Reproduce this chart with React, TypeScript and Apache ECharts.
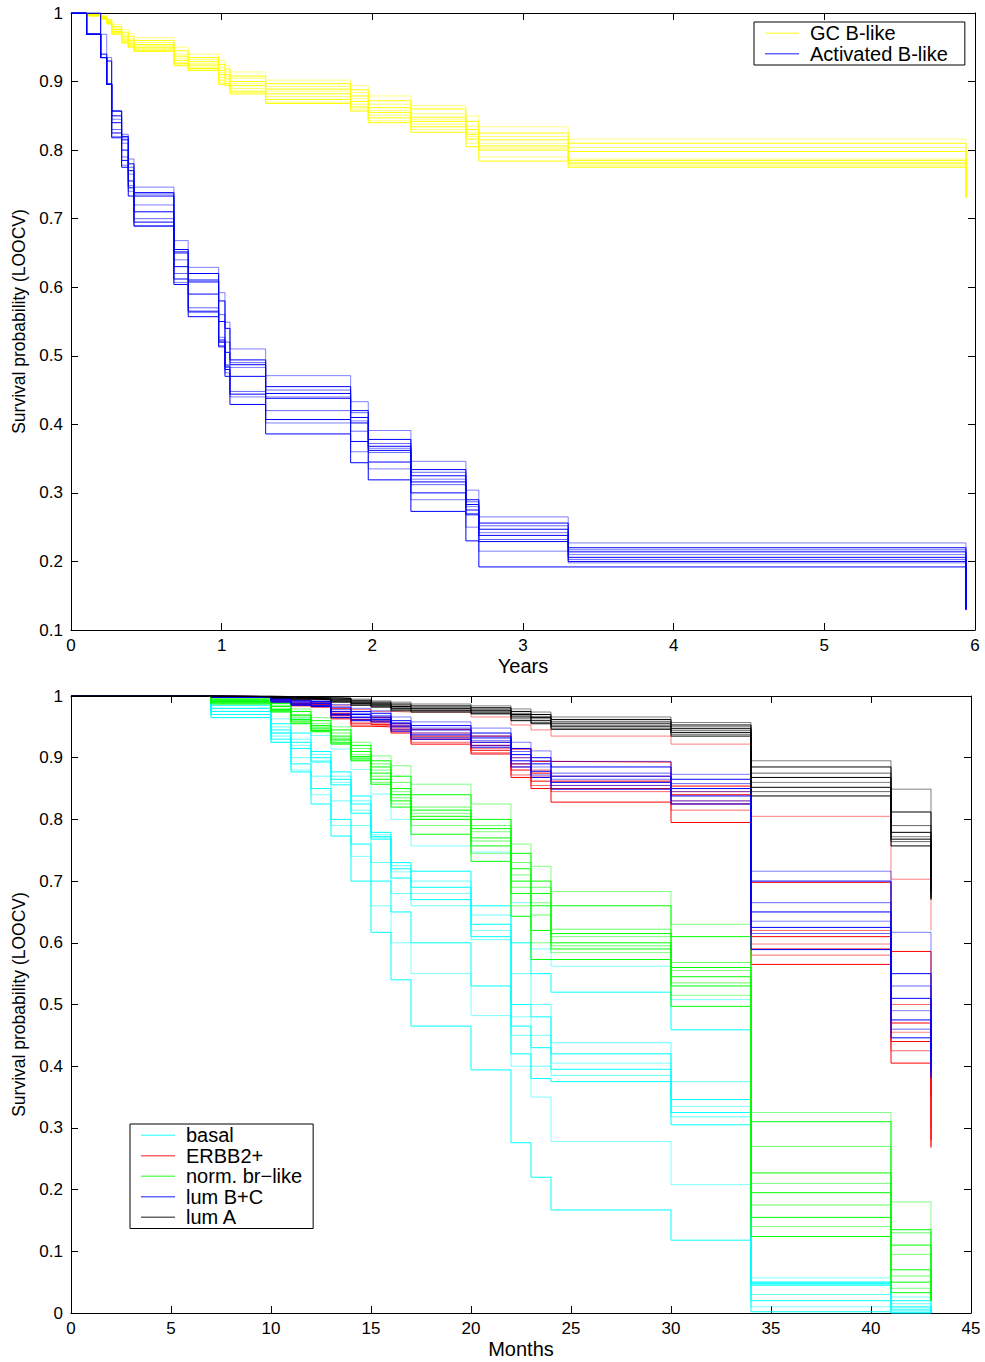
import React, { useEffect, useRef } from 'react';
import * as echarts from 'echarts';

// ---------- Top panel: years ----------
const yearTimes = [0, 0.104, 0.197, 0.237, 0.27, 0.336, 0.38, 0.418, 0.683, 0.778, 0.98, 1.022, 1.055, 1.292, 1.856, 1.973, 2.256, 2.621, 2.707, 3.3, 5.94];

const gcBLike = [
  [1, 0.998, 0.996, 0.991, 0.983, 0.976, 0.97, 0.964, 0.95, 0.94, 0.931, 0.923, 0.914, 0.902, 0.894, 0.879, 0.865, 0.85, 0.834, 0.816, 0.731],
  [1, 0.998, 0.995, 0.99, 0.98, 0.972, 0.966, 0.96, 0.945, 0.935, 0.925, 0.918, 0.908, 0.897, 0.888, 0.872, 0.86, 0.842, 0.825, 0.81, 0.731],
  [1, 0.997, 0.994, 0.989, 0.978, 0.969, 0.962, 0.957, 0.94, 0.932, 0.92, 0.914, 0.905, 0.893, 0.884, 0.867, 0.853, 0.835, 0.82, 0.804, 0.731],
  [1, 0.997, 0.994, 0.988, 0.976, 0.966, 0.96, 0.954, 0.937, 0.929, 0.916, 0.91, 0.9, 0.889, 0.879, 0.862, 0.848, 0.83, 0.815, 0.798, 0.731],
  [1, 0.997, 0.993, 0.987, 0.975, 0.964, 0.958, 0.952, 0.934, 0.926, 0.913, 0.907, 0.897, 0.886, 0.875, 0.858, 0.845, 0.826, 0.81, 0.787, 0.731],
  [1, 0.996, 0.993, 0.986, 0.973, 0.962, 0.956, 0.95, 0.931, 0.924, 0.91, 0.904, 0.894, 0.882, 0.871, 0.855, 0.842, 0.823, 0.806, 0.785, 0.731],
  [1, 0.996, 0.992, 0.986, 0.972, 0.96, 0.954, 0.948, 0.928, 0.921, 0.906, 0.9, 0.89, 0.878, 0.867, 0.851, 0.838, 0.82, 0.803, 0.782, 0.731],
  [1, 0.996, 0.992, 0.985, 0.971, 0.958, 0.952, 0.946, 0.926, 0.919, 0.902, 0.897, 0.886, 0.874, 0.863, 0.847, 0.834, 0.816, 0.8, 0.78, 0.731],
  [1, 0.996, 0.991, 0.984, 0.97, 0.957, 0.951, 0.945, 0.924, 0.917, 0.898, 0.895, 0.884, 0.87, 0.86, 0.843, 0.83, 0.81, 0.79, 0.777, 0.731],
  [1, 0.996, 0.991, 0.984, 0.969, 0.956, 0.95, 0.944, 0.923, 0.916, 0.896, 0.894, 0.882, 0.868, 0.857, 0.84, 0.826, 0.805, 0.784, 0.775, 0.731],
];

const activatedBLike = [
  [1, 1, 0.969, 0.935, 0.857, 0.823, 0.787, 0.746, 0.668, 0.629, 0.592, 0.549, 0.51, 0.471, 0.433, 0.391, 0.346, 0.304, 0.265, 0.227, 0.13],
  [1, 1, 0.94, 0.93, 0.857, 0.82, 0.78, 0.738, 0.655, 0.62, 0.58, 0.54, 0.494, 0.455, 0.42, 0.378, 0.334, 0.29, 0.256, 0.22, 0.13],
  [1, 0.969, 0.935, 0.896, 0.857, 0.818, 0.775, 0.736, 0.652, 0.611, 0.56, 0.52, 0.49, 0.45, 0.417, 0.372, 0.33, 0.287, 0.252, 0.217, 0.13],
  [1, 0.969, 0.935, 0.896, 0.85, 0.815, 0.77, 0.733, 0.65, 0.609, 0.55, 0.505, 0.487, 0.445, 0.41, 0.368, 0.325, 0.283, 0.247, 0.214, 0.13],
  [1, 0.969, 0.935, 0.896, 0.845, 0.81, 0.765, 0.72, 0.64, 0.607, 0.527, 0.487, 0.483, 0.44, 0.405, 0.365, 0.32, 0.28, 0.242, 0.21, 0.13],
  [1, 0.969, 0.935, 0.896, 0.84, 0.8, 0.755, 0.71, 0.63, 0.59, 0.523, 0.485, 0.47, 0.438, 0.402, 0.362, 0.316, 0.275, 0.238, 0.206, 0.13],
  [1, 0.969, 0.935, 0.896, 0.83, 0.79, 0.748, 0.7, 0.62, 0.57, 0.52, 0.483, 0.448, 0.42, 0.39, 0.359, 0.312, 0.27, 0.232, 0.203, 0.13],
  [1, 0.969, 0.935, 0.896, 0.825, 0.785, 0.745, 0.695, 0.612, 0.565, 0.52, 0.48, 0.444, 0.407, 0.375, 0.345, 0.3, 0.268, 0.229, 0.2, 0.13],
  [1, 0.969, 0.935, 0.896, 0.82, 0.778, 0.74, 0.69, 0.607, 0.563, 0.515, 0.475, 0.44, 0.402, 0.36, 0.335, 0.29, 0.25, 0.215, 0.198, 0.13],
  [1, 0.969, 0.935, 0.896, 0.818, 0.775, 0.733, 0.689, 0.604, 0.557, 0.513, 0.47, 0.429, 0.386, 0.344, 0.319, 0.273, 0.23, 0.192, 0.192, 0.13],
];

// ---------- Bottom panel: months ----------
const monthTimes = [0, 7, 10, 11, 12, 13, 14, 15, 16, 17, 20, 22, 23, 24, 30, 34, 41, 43];

const basal = [
  [1, 0.99, 0.963, 0.963, 0.936, 0.914, 0.881, 0.841, 0.8, 0.757, 0.747, 0.665, 0.59, 0.562, 0.508, 0.057, 0.026, 0],
  [1, 0.985, 0.955, 0.94, 0.91, 0.877, 0.838, 0.779, 0.73, 0.716, 0.66, 0.6, 0.55, 0.52, 0.459, 0.05, 0.02, 0],
  [1, 0.98, 0.95, 0.93, 0.905, 0.87, 0.83, 0.775, 0.725, 0.7, 0.645, 0.55, 0.5, 0.438, 0.375, 0.05, 0.015, 0],
  [1, 0.98, 0.945, 0.925, 0.9, 0.865, 0.825, 0.772, 0.72, 0.69, 0.63, 0.5, 0.48, 0.42, 0.346, 0.048, 0.01, 0],
  [1, 0.975, 0.94, 0.92, 0.895, 0.86, 0.815, 0.77, 0.715, 0.68, 0.62, 0.48, 0.45, 0.405, 0.335, 0.046, 0.008, 0],
  [1, 0.975, 0.94, 0.915, 0.893, 0.856, 0.81, 0.768, 0.705, 0.67, 0.61, 0.465, 0.43, 0.395, 0.325, 0.045, 0.005, 0],
  [1, 0.97, 0.935, 0.9, 0.87, 0.83, 0.79, 0.73, 0.68, 0.66, 0.605, 0.45, 0.4, 0.385, 0.318, 0.03, 0.003, 0],
  [1, 0.97, 0.93, 0.89, 0.85, 0.8, 0.76, 0.7, 0.65, 0.6, 0.53, 0.42, 0.38, 0.375, 0.305, 0.02, 0, 0],
  [1, 0.965, 0.925, 0.88, 0.84, 0.79, 0.74, 0.66, 0.6, 0.55, 0.482, 0.4, 0.35, 0.278, 0.208, 0.01, 0, 0],
  [1, 0.965, 0.925, 0.877, 0.825, 0.773, 0.7, 0.617, 0.54, 0.465, 0.394, 0.276, 0.22, 0.167, 0.118, 0.002, 0, 0],
];

const erbb2 = [
  [1, 0.999, 0.997, 0.995, 0.994, 0.985, 0.978, 0.975, 0.974, 0.974, 0.966, 0.953, 0.945, 0.935, 0.922, 0.805, 0.703, 0.62],
  [1, 0.999, 0.996, 0.993, 0.99, 0.98, 0.97, 0.965, 0.955, 0.946, 0.935, 0.914, 0.894, 0.893, 0.854, 0.698, 0.586, 0.45],
  [1, 0.999, 0.995, 0.99, 0.988, 0.975, 0.965, 0.96, 0.952, 0.94, 0.925, 0.9, 0.88, 0.87, 0.845, 0.62, 0.5, 0.4],
  [1, 0.999, 0.994, 0.988, 0.986, 0.972, 0.962, 0.958, 0.95, 0.935, 0.92, 0.89, 0.875, 0.862, 0.84, 0.61, 0.47, 0.35],
  [1, 0.998, 0.993, 0.987, 0.985, 0.97, 0.96, 0.956, 0.947, 0.932, 0.915, 0.885, 0.87, 0.855, 0.83, 0.598, 0.455, 0.3],
  [1, 0.998, 0.992, 0.986, 0.984, 0.968, 0.956, 0.954, 0.945, 0.93, 0.912, 0.88, 0.862, 0.85, 0.825, 0.59, 0.44, 0.28],
  [1, 0.998, 0.991, 0.985, 0.983, 0.965, 0.953, 0.952, 0.942, 0.925, 0.908, 0.872, 0.855, 0.845, 0.815, 0.58, 0.425, 0.27],
  [1, 0.998, 0.99, 0.984, 0.982, 0.963, 0.951, 0.95, 0.94, 0.922, 0.906, 0.868, 0.85, 0.828, 0.795, 0.565, 0.405, 0.268],
];

const normBrLike = [
  [1, 0.996, 0.99, 0.979, 0.965, 0.95, 0.925, 0.903, 0.887, 0.857, 0.825, 0.76, 0.724, 0.683, 0.63, 0.325, 0.18, 0.02],
  [1, 0.995, 0.988, 0.975, 0.96, 0.945, 0.92, 0.895, 0.87, 0.84, 0.8, 0.745, 0.7, 0.66, 0.61, 0.31, 0.135, 0.02],
  [1, 0.994, 0.985, 0.97, 0.955, 0.94, 0.915, 0.89, 0.86, 0.82, 0.79, 0.73, 0.69, 0.622, 0.568, 0.27, 0.13, 0.02],
  [1, 0.993, 0.983, 0.968, 0.952, 0.935, 0.91, 0.885, 0.85, 0.815, 0.785, 0.72, 0.68, 0.615, 0.56, 0.227, 0.11, 0.02],
  [1, 0.992, 0.98, 0.965, 0.95, 0.932, 0.905, 0.88, 0.845, 0.81, 0.78, 0.71, 0.665, 0.61, 0.555, 0.21, 0.095, 0.02],
  [1, 0.991, 0.978, 0.962, 0.948, 0.93, 0.902, 0.875, 0.84, 0.805, 0.77, 0.7, 0.66, 0.6, 0.545, 0.195, 0.07, 0.02],
  [1, 0.99, 0.977, 0.96, 0.946, 0.928, 0.9, 0.87, 0.835, 0.8, 0.765, 0.69, 0.645, 0.595, 0.535, 0.175, 0.06, 0.02],
  [1, 0.989, 0.976, 0.958, 0.944, 0.925, 0.898, 0.865, 0.83, 0.8, 0.757, 0.68, 0.62, 0.59, 0.53, 0.155, 0.05, 0.02],
  [1, 0.988, 0.975, 0.956, 0.943, 0.923, 0.896, 0.86, 0.825, 0.79, 0.745, 0.66, 0.6, 0.584, 0.515, 0.14, 0.04, 0.02],
  [1, 0.987, 0.974, 0.955, 0.942, 0.922, 0.895, 0.857, 0.82, 0.776, 0.732, 0.643, 0.573, 0.573, 0.497, 0.124, 0.033, 0.02],
];

const lumBC = [
  [1, 0.999, 0.997, 0.995, 0.993, 0.986, 0.98, 0.976, 0.966, 0.958, 0.948, 0.925, 0.911, 0.894, 0.873, 0.716, 0.617, 0.45],
  [1, 0.999, 0.996, 0.993, 0.991, 0.982, 0.975, 0.972, 0.96, 0.952, 0.94, 0.915, 0.9, 0.885, 0.865, 0.7, 0.55, 0.42],
  [1, 0.999, 0.995, 0.991, 0.989, 0.978, 0.972, 0.968, 0.957, 0.948, 0.935, 0.91, 0.895, 0.875, 0.858, 0.665, 0.53, 0.41],
  [1, 0.999, 0.994, 0.99, 0.988, 0.975, 0.97, 0.966, 0.955, 0.945, 0.932, 0.905, 0.89, 0.87, 0.85, 0.65, 0.51, 0.4],
  [1, 0.998, 0.993, 0.988, 0.987, 0.972, 0.967, 0.964, 0.952, 0.94, 0.928, 0.9, 0.885, 0.865, 0.845, 0.635, 0.49, 0.395],
  [1, 0.998, 0.992, 0.987, 0.985, 0.97, 0.965, 0.962, 0.95, 0.937, 0.925, 0.895, 0.878, 0.86, 0.838, 0.625, 0.475, 0.39],
  [1, 0.998, 0.991, 0.986, 0.984, 0.968, 0.962, 0.96, 0.946, 0.933, 0.92, 0.89, 0.872, 0.855, 0.83, 0.615, 0.46, 0.385],
  [1, 0.998, 0.99, 0.985, 0.983, 0.965, 0.96, 0.958, 0.943, 0.93, 0.917, 0.885, 0.868, 0.849, 0.825, 0.589, 0.446, 0.38],
];

const lumA = [
  [1, 1, 0.999, 0.998, 0.998, 0.997, 0.995, 0.992, 0.99, 0.987, 0.984, 0.979, 0.974, 0.966, 0.957, 0.895, 0.849, 0.7],
  [1, 1, 0.999, 0.998, 0.997, 0.996, 0.993, 0.99, 0.987, 0.984, 0.981, 0.975, 0.97, 0.962, 0.953, 0.885, 0.812, 0.69],
  [1, 0.999, 0.998, 0.997, 0.996, 0.995, 0.991, 0.988, 0.985, 0.982, 0.979, 0.972, 0.967, 0.959, 0.95, 0.875, 0.79, 0.685],
  [1, 0.999, 0.998, 0.997, 0.996, 0.994, 0.99, 0.987, 0.983, 0.98, 0.977, 0.97, 0.965, 0.956, 0.947, 0.868, 0.779, 0.68],
  [1, 0.999, 0.998, 0.996, 0.995, 0.993, 0.989, 0.986, 0.981, 0.979, 0.976, 0.968, 0.963, 0.953, 0.944, 0.86, 0.772, 0.675],
  [1, 0.999, 0.997, 0.996, 0.995, 0.992, 0.988, 0.985, 0.98, 0.977, 0.974, 0.966, 0.96, 0.951, 0.941, 0.852, 0.768, 0.672],
  [1, 0.999, 0.997, 0.995, 0.994, 0.991, 0.986, 0.983, 0.978, 0.976, 0.972, 0.963, 0.957, 0.948, 0.938, 0.845, 0.764, 0.67],
  [1, 0.999, 0.997, 0.995, 0.994, 0.99, 0.985, 0.982, 0.976, 0.974, 0.971, 0.96, 0.955, 0.946, 0.935, 0.838, 0.757, 0.67],
];

const topGroups = [
  { name: 'GC B-like', color: '#ffff00', curves: gcBLike },
  { name: 'Activated B-like', color: '#0000ff', curves: activatedBLike },
];
const bottomGroups = [
  { name: 'basal', color: '#00ffff', curves: basal },
  { name: 'ERBB2+', color: '#ff0000', curves: erbb2 },
  { name: 'norm. br\u2212like', color: '#00ff00', curves: normBrLike },
  { name: 'lum B+C', color: '#0000ff', curves: lumBC },
  { name: 'lum A', color: '#000000', curves: lumA },
];

const curveOpacity = [0.5, 1, 0.6, 1, 0.5, 1, 0.6, 1, 0.5, 1];
const FONT = 'Liberation Sans, Arial, Helvetica, sans-serif';

function buildSeries(groups: any[], times: number[], axisIndex: number) {
  const out: any[] = [];
  groups.forEach((g) => {
    g.curves.forEach((vals: number[], ci: number) => {
      out.push({
        type: 'line',
        name: g.name,
        xAxisIndex: axisIndex,
        yAxisIndex: axisIndex,
        step: 'end',
        symbol: 'none',
        silent: true,
        clip: true,
        data: times.map((t, i) => [t, vals[i]]),
        lineStyle: { color: g.color, width: 1, opacity: curveOpacity[ci % curveOpacity.length] },
        itemStyle: { color: g.color, opacity: 0.6 },
        emphasis: { disabled: true },
      });
    });
  });
  return out;
}

function xAxes(grid: number, min: number, max: number, interval: number, name: string) {
  const common = {
    type: 'value', gridIndex: grid, min, max, interval,
    splitLine: { show: false },
    axisLine: { show: true, onZero: false, lineStyle: { color: '#000', width: 1 } },
    axisTick: { show: true, inside: true, length: 7, lineStyle: { color: '#000' } },
  };
  return [
    {
      ...common, position: 'bottom', name, nameLocation: 'middle', nameGap: 26,
      nameTextStyle: { fontSize: 20, fontFamily: FONT, color: '#000' },
      axisLabel: { show: true, fontSize: 17, fontFamily: FONT, color: '#000', margin: 7 },
    },
    { ...common, position: 'top', axisLabel: { show: false } },
  ];
}

function yAxes(grid: number, min: number, max: number, interval: number) {
  const common = {
    type: 'value', gridIndex: grid, min, max, interval,
    splitLine: { show: false },
    axisLine: { show: true, onZero: false, lineStyle: { color: '#000', width: 1 } },
    axisTick: { show: true, inside: true, length: 7, lineStyle: { color: '#000' } },
  };
  return [
    {
      ...common, position: 'left', name: 'Survival probability (LOOCV)', nameLocation: 'middle', nameGap: 43,
      nameTextStyle: { fontSize: 17.5, fontFamily: FONT, color: '#000' },
      axisLabel: { show: true, fontSize: 17, fontFamily: FONT, color: '#000', margin: 8 },
    },
    { ...common, position: 'right', axisLabel: { show: false } },
  ];
}

function legendBox(names: string[], left: number, top: number, rightPad: number) {
  return {
    data: names,
    left, top,
    orient: 'vertical',
    selectedMode: false,
    icon: 'rect',
    itemWidth: 34,
    itemHeight: 1.5,
    itemGap: 0,
    padding: [1, rightPad, 1, 11],
    borderColor: '#000',
    borderWidth: 1,
    borderRadius: 0,
    backgroundColor: '#fff',
    textStyle: { fontSize: 20, lineHeight: 20.5, fontFamily: FONT, color: '#000', padding: [0, 0, 0, 6] },
  };
}

const X0 = xAxes(0, 0, 6, 1, 'Years');
const X1 = xAxes(1, 0, 45, 5, 'Months');
const Y0 = yAxes(0, 0.1, 1, 0.1);
const Y1 = yAxes(1, 0, 1, 0.1);

const option: any = {
  animation: false,
  backgroundColor: '#fff',
  grid: [
    { left: 71, top: 13, width: 904, height: 617, containLabel: false },
    { left: 71, top: 696, width: 900, height: 617, containLabel: false },
  ],
  xAxis: [X0[0], X1[0], X0[1], X1[1]],
  yAxis: [Y0[0], Y1[0], Y0[1], Y1[1]],
  legend: [
    legendBox(topGroups.map((g) => g.name), 754, 22, 17),
    legendBox(bottomGroups.map((g) => g.name), 130, 1124, 11),
  ],
  series: [
    ...buildSeries(topGroups, yearTimes, 0),
    ...buildSeries(bottomGroups, monthTimes, 1),
  ],
};

export default function App() {
  const ref = useRef<HTMLDivElement>(null);
  useEffect(() => {
    const chart = echarts.init(ref.current as HTMLDivElement, null, { renderer: 'svg' });
    chart.setOption(option);
    return () => chart.dispose();
  }, []);
  return (
    <div
      ref={ref}
      style={{ position: 'absolute', left: 0, top: 0, width: 985, height: 1362, background: '#fff' }}
    />
  );
}
